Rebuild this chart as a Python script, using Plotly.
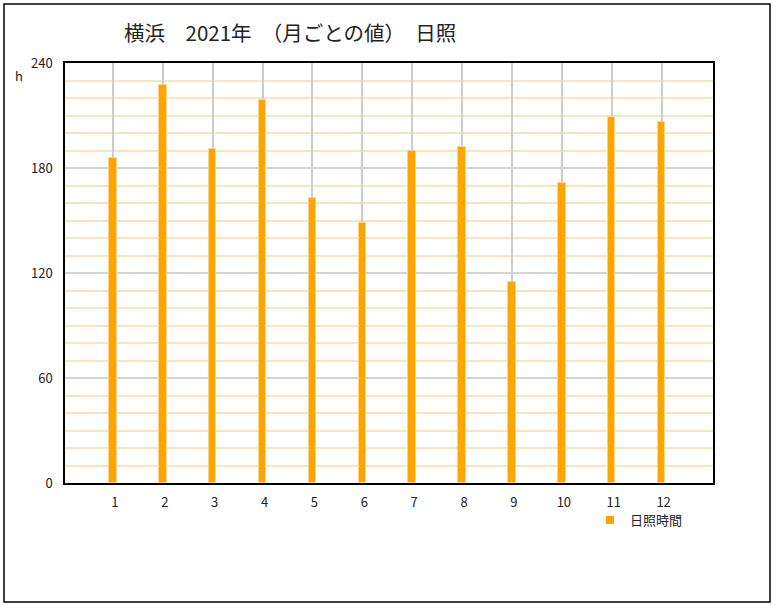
import plotly.graph_objects as go

months = [1, 2, 3, 4, 5, 6, 7, 8, 9, 10, 11, 12]
month_labels = ["1", "2", "3", "4", "5", "6", "7", "8", "9", "10", "11", "12"]
sunshine_hours = [185.7, 227.4, 191.1, 218.7, 163.1, 148.8, 189.9, 191.8, 114.9, 171.3, 209.0, 206.3]
y_ticks = [0, 60, 120, 180, 240]

FONT = "Noto Sans CJK JP"
W, H = 776, 605
L, R, T, B = 65, 63, 63, 122
pw, ph = W - L - R, H - T - B

def px_x(px):
    return (px - L) / pw

def px_y(py):
    return (H - B - py) / ph

fig = go.Figure()
fig.add_trace(go.Bar(
    x=months, y=sunshine_hours, width=0.15,
    marker=dict(color="#FFA500", line=dict(color="#FFD48A", width=1)),
    showlegend=False, name="日照時間",
))
fig.add_trace(go.Scatter(
    x=[None], y=[None], mode="markers", name="日照時間",
    marker=dict(symbol="square", size=8, color="#FFA500"),
))

fig.update_layout(
    width=W, height=H,
    margin=dict(l=L, r=R, t=T, b=B),
    paper_bgcolor="white", plot_bgcolor="white",
    font=dict(family=FONT, size=12, color="#222222"),
    showlegend=True,
    legend=dict(x=px_x(590), y=px_y(505), xanchor="left", yanchor="top",
                font=dict(size=13, color="#222222"), bgcolor="rgba(0,0,0,0)",
                itemwidth=30),
    bargap=0,
)
fig.update_xaxes(
    range=[0.04, 13.03], tickvals=months, ticktext=month_labels,
    showgrid=True, gridcolor="#CCCCCC", gridwidth=1.5,
    showline=True, linecolor="black", linewidth=1.5, mirror=True,
    ticks="", ticklabelstandoff=7, ticklabelshift=2, zeroline=False,
    tickfont=dict(size=13, color="#222222"),
)
fig.update_yaxes(
    range=[0, 240], tickvals=y_ticks,
    showgrid=True, gridcolor="#D4D4D4", gridwidth=2,
    minor=dict(dtick=10, tick0=0, showgrid=True, gridcolor="#FBE3BC", gridwidth=1.5),
    showline=True, linecolor="black", linewidth=1.5, mirror=True,
    ticks="", ticklabelstandoff=8, zeroline=False,
    tickfont=dict(size=13, color="#222222"),
)

fig.add_annotation(
    text="横浜　2021年　（月ごとの値）　日照", xref="paper", yref="paper",
    x=px_x(122), y=px_y(32), xanchor="left", yanchor="middle",
    showarrow=False, font=dict(size=20.5, color="#222222", family=FONT),
)
fig.add_annotation(
    text="h", xref="paper", yref="paper",
    x=px_x(19), y=px_y(75), xanchor="center", yanchor="middle",
    showarrow=False, font=dict(size=13, color="#222222", family=FONT),
)
fig.add_shape(
    type="rect", xref="paper", yref="paper",
    x0=px_x(4), x1=px_x(770), y0=px_y(602), y1=px_y(4),
    line=dict(color="black", width=1.5), fillcolor="rgba(0,0,0,0)", layer="below",
)

fig.write_html("out.html", config={"displayModeBar": False},
               post_script="document.body.style.margin='0px';document.body.style.overflow='hidden';")
